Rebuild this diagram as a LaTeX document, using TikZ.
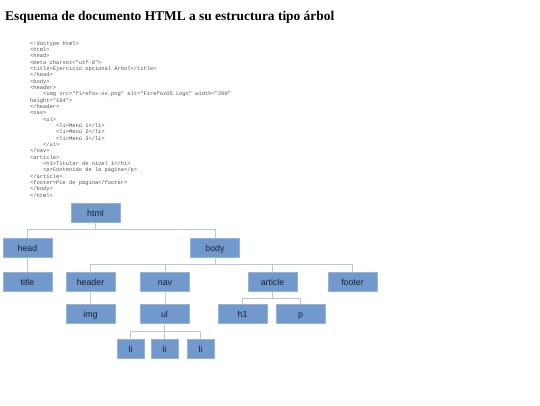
\documentclass[tikz,border=0pt]{standalone}
\usepackage{fontspec}
\setmainfont{Liberation Serif}
\setsansfont{Liberation Sans}
\setmonofont{Liberation Mono}
\definecolor{boxfill}{RGB}{114,153,204}
\definecolor{boxedge}{RGB}{150,178,218}
\definecolor{linkc}{RGB}{188,198,214}
\definecolor{boxtext}{RGB}{28,32,48}
\definecolor{codec}{RGB}{80,80,80}
\newcommand\ind{\hspace*{2.4em}}
\tikzset{
  tbox/.style={draw=boxedge, line width=0.6pt, fill=boxfill, minimum width=49pt, minimum height=19pt,
    inner sep=0pt, text height=8.2pt, text depth=0.6pt, font=\sffamily\fontsize{8.8}{10}\selectfont, text=boxtext},
  lbox/.style={tbox, minimum width=27pt},
  link/.style={draw=linkc, line width=0.8pt}
}
\begin{document}
\begin{tikzpicture}[x=1pt,y=-1pt]
\useasboundingbox (0,0) rectangle (540,405);
\node[anchor=base west, inner sep=0pt, font=\rmfamily\bfseries\fontsize{13.4}{15}\selectfont] (title) at (5,20.8)
  {Esquema de documento HTML a su estructura tipo árbol};
\node[anchor=north west, inner sep=0pt, align=left, text=codec, font=\ttfamily\fontsize{5.4}{6.33}\selectfont] (code) at (30,41)
  {<!doctype html>\\
<html>\\
<head>\\
<meta charset="utf-8">\\
<title>Ejercicio opcional Árbol</title>\\
</head>\\
<body>\\
<header>\\
\ind<img src="firefox-os.png" alt="FirefoxOS Logo" width="200"\\
height="164">\\
</header>\\
<nav>\\
\ind<ul>\\
\ind\ind<li>Menú 1</li>\\
\ind\ind<li>Menú 2</li>\\
\ind\ind<li>Menú 3</li>\\
\ind</ul>\\
</nav>\\
<article>\\
\ind<h1>Titular de nivel 1</h1>\\
\ind<p>Contenido de la página</p>\\
</article>\\
<footer>Pie de página</footer>\\
</body>\\
</html>};

\node[tbox] (html) at (95.5,213) {html};
\node[tbox] (head) at (27.5,247.5) {head};
\node[tbox] (body) at (215,247.5) {body};
\node[tbox] (titl) at (27.5,281.5) {title};
\node[tbox] (header) at (90.5,281.5) {header};
\node[tbox] (nav) at (165,281.5) {nav};
\node[tbox] (article) at (272.5,282) {article};
\node[tbox] (footer) at (352.5,281.5) {footer};
\node[tbox] (img) at (90.5,313.5) {img};
\node[tbox] (ul) at (164.5,313.5) {ul};
\node[tbox] (h1) at (242.5,313.5) {h1};
\node[tbox] (p) at (300.5,313.5) {p};
\node[lbox] (li1) at (130.5,348.5) {li};
\node[lbox] (li2) at (164.5,348.5) {li};
\node[lbox] (li3) at (200.5,348.5) {li};

\foreach \c in {head,body} \draw[link] (html.south) -- ++(0,7) -| (\c.north);
\draw[link] (head.south) -- (titl.north);
\foreach \c in {header,nav,article,footer} \draw[link] (body.south) -- ++(0,7) -| (\c.north);
\draw[link] (header.south) -- (img.north);
\draw[link] (nav.south) -- (nav.south |- ul.north);
\foreach \c in {h1,p} \draw[link] (article.south) -- ++(0,6.5) -| (\c.north);
\foreach \c in {li1,li2,li3} \draw[link] (ul.south) -- ++(0,8) -| (\c.north);
\end{tikzpicture}
\end{document}
